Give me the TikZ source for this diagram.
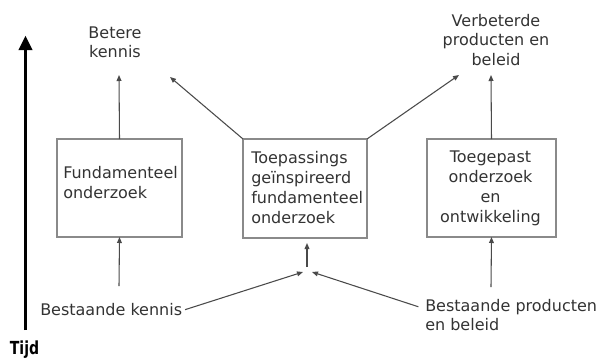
\documentclass[tikz,border=0pt]{standalone}
\usepackage{fontspec}
\usepackage{graphicx}
\setmainfont{DejaVu Sans}
\usetikzlibrary{arrows.meta}
\definecolor{boxline}{HTML}{8A8A8A}
\definecolor{ink}{HTML}{333333}
\definecolor{wire}{HTML}{4A4A4A}
\begin{document}
\begin{tikzpicture}[x=0.75pt,y=-0.75pt,
  box/.style={draw=boxline,line width=1.1pt,inner sep=0pt,outer sep=0pt},
  txt/.style={text=ink,inner sep=0pt,font=\fontsize{12pt}{15pt}\selectfont},
  lbl/.style={text=ink,inner sep=0pt,font=\fontsize{12pt}{14.5pt}\selectfont},
  conn/.style={draw=wire,line width=0.8pt,-{Triangle[length=4.5pt,width=3.6pt]}}]
\useasboundingbox (0,0) rectangle (601,358);

% time axis
\coordinate (axbot) at (25.5,330);
\coordinate (axtop) at (25.5,35.5);
\draw[line width=2.4pt,-{Triangle[length=11pt,width=10pt]}] (axbot) -- (axtop);
\node[anchor=base,inner sep=0pt,text=black] (tijd) at (24.5,354.5)
  {\scalebox{0.78}[1]{\fontsize{13.5pt}{16pt}\selectfont\bfseries Tijd}};

% research boxes
\node[box,minimum width=93.75pt,minimum height=73.5pt] (fund) at (119.5,188) {};
\node[box,minimum width=93pt,minimum height=74.25pt] (toep) at (305,188.5) {};
\node[box,minimum width=96.75pt,minimum height=73.5pt] (toeg) at (491.5,188) {};

% box texts (anchored at the baseline of their last line)
\node[txt,anchor=base west,align=left] (fundtxt) at (63,198)
  {Fundamenteel\\onderzoek};
\node[txt,anchor=base west,align=left] (toeptxt) at (251,223)
  {Toepassings\\geïnspireerd\\fundamenteel\\onderzoek};
\node[txt,anchor=base,align=center] (toegtxt) at (490.5,222)
  {Toegepast\\onderzoek\\en\\ontwikkeling};

% outcomes
\node[lbl,anchor=base,align=center] (beter) at (115,57.5) {Betere\\kennis};
\node[lbl,anchor=base,align=center] (verb) at (496,65)
  {Verbeterde\\producten en\\beleid};

% starting points
\node[lbl,anchor=base west] (bk) at (40,315) {Bestaande kennis};
\node[lbl,anchor=base west,align=left] (bp) at (425,330.5)
  {Bestaande producten\\en beleid};

% arrow ends
\coordinate (o1) at (119,75);
\coordinate (o2) at (170,77);
\coordinate (o3) at (459,75);
\coordinate (o4) at (491,75);
\coordinate (i1) at (119,286);
\coordinate (i3) at (491,287);
\coordinate (mbot) at (307,267);
\coordinate (mtop) at (307,243);
\coordinate (jk) at (303,272);
\coordinate (jp) at (312,272);

\draw[conn] (fund.north) -- (o1);
\draw[conn] (toep.north west) -- (o2);
\draw[conn] (toep.north east) -- (o3);
\draw[conn] (toeg.north) -- (o4);
\draw[conn] (i1) -- (fund.south);
\draw[conn] (i3) -- (toeg.south);
\draw[conn] (mbot) -- (mtop);
\draw[conn] ([xshift=2pt,yshift=4pt]bk.base east) -- (jk);
\draw[conn] ([xshift=-5pt,yshift=-6pt]bp.north west) -- (jp);
\end{tikzpicture}
\end{document}
